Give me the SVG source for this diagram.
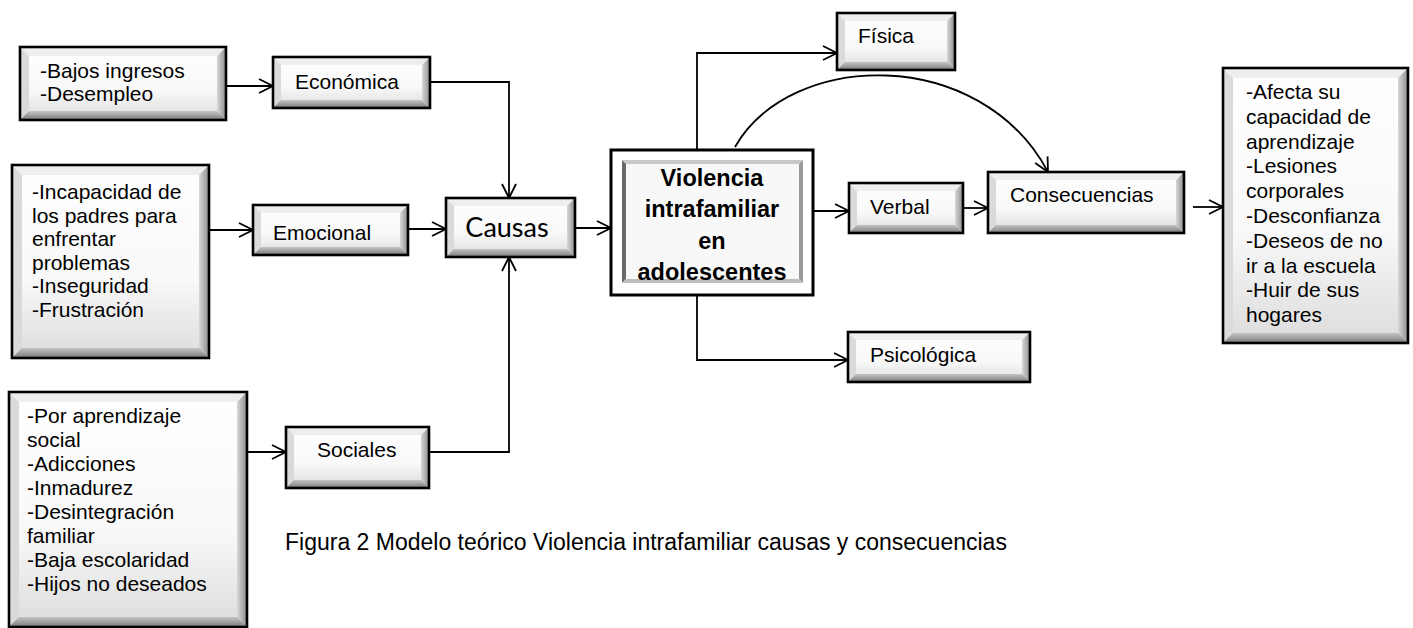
<svg xmlns="http://www.w3.org/2000/svg" width="1413" height="628" viewBox="0 0 1413 628">
<defs>
<linearGradient id="gFace" x1="0" y1="0" x2="0" y2="1"><stop offset="0" stop-color="#ffffff"/><stop offset="0.6" stop-color="#f8f8f8"/><stop offset="1" stop-color="#dcdcdc"/></linearGradient>
<linearGradient id="gRight" x1="0" y1="0" x2="1" y2="0"><stop offset="0" stop-color="#d8d8d8"/><stop offset="1" stop-color="#8c8c8c"/></linearGradient>
<linearGradient id="gBottom" x1="0" y1="0" x2="0" y2="1"><stop offset="0" stop-color="#c4c4c4"/><stop offset="1" stop-color="#7a7a7a"/></linearGradient>
<marker id="arr" viewBox="0 0 16 16" refX="15" refY="8" markerWidth="16" markerHeight="16" markerUnits="userSpaceOnUse" orient="auto">
<path d="M1,1 L15,8 L1,15" fill="none" stroke="#000" stroke-width="1.8"/>
</marker>
</defs>
<style>
.face{fill:url(#gFace)}
.bt{fill:#eeeeee}
.bl{fill:#dadada}
.br{fill:url(#gRight)}
.bb{fill:url(#gBottom)}
.frame{fill:none;stroke:#000;stroke-width:2.6}
.t{font-family:"Liberation Sans",Arial,sans-serif;font-size:21px;fill:#000}
.v{font-family:"Liberation Sans",Arial,sans-serif;font-size:23.5px;font-weight:bold;fill:#000;text-anchor:middle}
.c{font-family:Lato,"Open Sans",sans-serif;font-size:27px;fill:#000;text-anchor:middle}
.cap{font-family:"Liberation Sans",Arial,sans-serif;font-size:23px;fill:#000}
.edge{fill:none;stroke:#000;stroke-width:1.8;marker-end:url(#arr)}
</style>
<rect width="1413" height="628" fill="#ffffff"/>

<g id="connectors">
<path class="edge" d="M226,86 H273"/>
<path class="edge" d="M430,82 H509 V198"/>
<path class="edge" d="M209,230 H253"/>
<path class="edge" d="M408,229 H446"/>
<path class="edge" d="M247,452 H286"/>
<path class="edge" d="M429,452 H509 V257"/>
<path class="edge" d="M575,228 H611"/>
<path class="edge" d="M697,150 V53 H837"/>
<path class="edge" d="M813,211 H849"/>
<path class="edge" d="M697,295 V360 H848"/>
<path class="edge" d="M963,208 H988"/>
<path class="edge" d="M1193,207 H1223"/>
<path class="edge" d="M735,147 C790,50 980,45 1048,172"/>
</g>

<g id="n-bajos">
<rect class="face" x="20" y="47" width="206" height="73"/>
<polygon class="bt" points="20,47 226,47 217,56 29,56"/>
<polygon class="bl" points="20,47 29,56 29,111 20,120"/>
<polygon class="br" points="226,47 226,120 217,111 217,56"/>
<polygon class="bb" points="20,120 29,111 217,111 226,120"/>
<rect class="frame" x="20" y="47" width="206" height="73"/>
<text class="t" x="40" y="77.5">-Bajos ingresos</text>
<text class="t" x="40" y="100.5">-Desempleo</text>
</g>

<g id="n-economica">
<rect class="face" x="273" y="57" width="157" height="51"/>
<polygon class="bt" points="273,57 430,57 422,65 281,65"/>
<polygon class="bl" points="273,57 281,65 281,100 273,108"/>
<polygon class="br" points="430,57 430,108 422,100 422,65"/>
<polygon class="bb" points="273,108 281,100 422,100 430,108"/>
<rect class="frame" x="273" y="57" width="157" height="51"/>
<text class="t" x="295" y="89">Económica</text>
</g>

<g id="n-emocional-list">
<rect class="face" x="12" y="165" width="197" height="193"/>
<polygon class="bt" points="12,165 209,165 199,175 22,175"/>
<polygon class="bl" points="12,165 22,175 22,348 12,358"/>
<polygon class="br" points="209,165 209,358 199,348 199,175"/>
<polygon class="bb" points="12,358 22,348 199,348 209,358"/>
<rect class="frame" x="12" y="165" width="197" height="193"/>
<text class="t" x="32" y="199">-Incapacidad de</text>
<text class="t" x="32" y="222.5">los padres para</text>
<text class="t" x="32" y="246">enfrentar</text>
<text class="t" x="32" y="269.5">problemas</text>
<text class="t" x="32" y="293">-Inseguridad</text>
<text class="t" x="32" y="316.5">-Frustración</text>
</g>

<g id="n-emocional">
<rect class="face" x="253" y="205" width="155" height="50"/>
<polygon class="bt" points="253,205 408,205 400,213 261,213"/>
<polygon class="bl" points="253,205 261,213 261,247 253,255"/>
<polygon class="br" points="408,205 408,255 400,247 400,213"/>
<polygon class="bb" points="253,255 261,247 400,247 408,255"/>
<rect class="frame" x="253" y="205" width="155" height="50"/>
<text class="t" x="273" y="239.5">Emocional</text>
</g>

<g id="n-sociales-list">
<rect class="face" x="9" y="392" width="238" height="235"/>
<polygon class="bt" points="9,392 247,392 237,402 19,402"/>
<polygon class="bl" points="9,392 19,402 19,617 9,627"/>
<polygon class="br" points="247,392 247,627 237,617 237,402"/>
<polygon class="bb" points="9,627 19,617 237,617 247,627"/>
<rect class="frame" x="9" y="392" width="238" height="235"/>
<text class="t" x="27" y="423">-Por aprendizaje</text>
<text class="t" x="27" y="447">social</text>
<text class="t" x="27" y="471">-Adicciones</text>
<text class="t" x="27" y="495">-Inmadurez</text>
<text class="t" x="27" y="519">-Desintegración</text>
<text class="t" x="27" y="543">familiar</text>
<text class="t" x="27" y="567">-Baja escolaridad</text>
<text class="t" x="27" y="591">-Hijos no deseados</text>
</g>

<g id="n-sociales">
<rect class="face" x="286" y="427" width="143" height="61"/>
<polygon class="bt" points="286,427 429,427 421,435 294,435"/>
<polygon class="bl" points="286,427 294,435 294,480 286,488"/>
<polygon class="br" points="429,427 429,488 421,480 421,435"/>
<polygon class="bb" points="286,488 294,480 421,480 429,488"/>
<rect class="frame" x="286" y="427" width="143" height="61"/>
<text class="t" x="317" y="457">Sociales</text>
</g>

<g id="n-causas">
<rect class="face" x="446" y="198" width="129" height="59"/>
<polygon class="bt" points="446,198 575,198 567,206 454,206"/>
<polygon class="bl" points="446,198 454,206 454,249 446,257"/>
<polygon class="br" points="575,198 575,257 567,249 567,206"/>
<polygon class="bb" points="446,257 454,249 567,249 575,257"/>
<rect class="frame" x="446" y="198" width="129" height="59"/>
<text class="c" x="507" y="237">Causas</text>
</g>

<g id="n-violencia">
<rect x="611" y="150" width="202" height="145" fill="#ffffff" stroke="#000" stroke-width="3"/>
<rect x="626" y="164" width="173" height="115" fill="#f8f8f8"/>
<polygon fill="#c8c8c8" points="622,160 803,160 799,164 626,164"/>
<polygon fill="#6a6a6a" points="622,160 626,164 626,279 622,283"/>
<polygon fill="#9a9a9a" points="803,160 803,283 799,279 799,164"/>
<polygon fill="#bdbdbd" points="622,283 626,279 799,279 803,283"/>
<text class="v" x="712" y="185.5">Violencia</text>
<text class="v" x="712" y="217">intrafamiliar</text>
<text class="v" x="712" y="248.5">en</text>
<text class="v" x="712" y="280">adolescentes</text>
</g>

<g id="n-fisica">
<rect class="face" x="837" y="13" width="118" height="57"/>
<polygon class="bt" points="837,13 955,13 947,21 845,21"/>
<polygon class="bl" points="837,13 845,21 845,62 837,70"/>
<polygon class="br" points="955,13 955,70 947,62 947,21"/>
<polygon class="bb" points="837,70 845,62 947,62 955,70"/>
<rect class="frame" x="837" y="13" width="118" height="57"/>
<text class="t" x="858" y="42.5">Física</text>
</g>

<g id="n-verbal">
<rect class="face" x="849" y="183" width="114" height="50"/>
<polygon class="bt" points="849,183 963,183 955,191 857,191"/>
<polygon class="bl" points="849,183 857,191 857,225 849,233"/>
<polygon class="br" points="963,183 963,233 955,225 955,191"/>
<polygon class="bb" points="849,233 857,225 955,225 963,233"/>
<rect class="frame" x="849" y="183" width="114" height="50"/>
<text class="t" x="870" y="214">Verbal</text>
</g>

<g id="n-consecuencias">
<rect class="face" x="988" y="172" width="196" height="61"/>
<polygon class="bt" points="988,172 1184,172 1176,180 996,180"/>
<polygon class="bl" points="988,172 996,180 996,225 988,233"/>
<polygon class="br" points="1184,172 1184,233 1176,225 1176,180"/>
<polygon class="bb" points="988,233 996,225 1176,225 1184,233"/>
<rect class="frame" x="988" y="172" width="196" height="61"/>
<text class="t" x="1010" y="202">Consecuencias</text>
</g>

<g id="n-psicologica">
<rect class="face" x="848" y="332" width="182" height="50"/>
<polygon class="bt" points="848,332 1030,332 1022,340 856,340"/>
<polygon class="bl" points="848,332 856,340 856,374 848,382"/>
<polygon class="br" points="1030,332 1030,382 1022,374 1022,340"/>
<polygon class="bb" points="848,382 856,374 1022,374 1030,382"/>
<rect class="frame" x="848" y="332" width="182" height="50"/>
<text class="t" x="870" y="362">Psicológica</text>
</g>

<g id="n-efectos">
<rect class="face" x="1223" y="68" width="185" height="275"/>
<polygon class="bt" points="1223,68 1408,68 1398,78 1233,78"/>
<polygon class="bl" points="1223,68 1233,78 1233,333 1223,343"/>
<polygon class="br" points="1408,68 1408,343 1398,333 1398,78"/>
<polygon class="bb" points="1223,343 1233,333 1398,333 1408,343"/>
<rect class="frame" x="1223" y="68" width="185" height="275"/>
<text class="t" x="1246" y="99">-Afecta su</text>
<text class="t" x="1246" y="123.8">capacidad de</text>
<text class="t" x="1246" y="148.6">aprendizaje</text>
<text class="t" x="1246" y="173.4">-Lesiones</text>
<text class="t" x="1246" y="198.2">corporales</text>
<text class="t" x="1246" y="223">-Desconfianza</text>
<text class="t" x="1246" y="247.8">-Deseos de no</text>
<text class="t" x="1246" y="272.6">ir a la escuela</text>
<text class="t" x="1246" y="297.4">-Huir de sus</text>
<text class="t" x="1246" y="322.2">hogares</text>
</g>

<g id="caption">
<text class="cap" x="285" y="550">Figura 2 Modelo teórico Violencia intrafamiliar causas y consecuencias</text>
</g>
</svg>
